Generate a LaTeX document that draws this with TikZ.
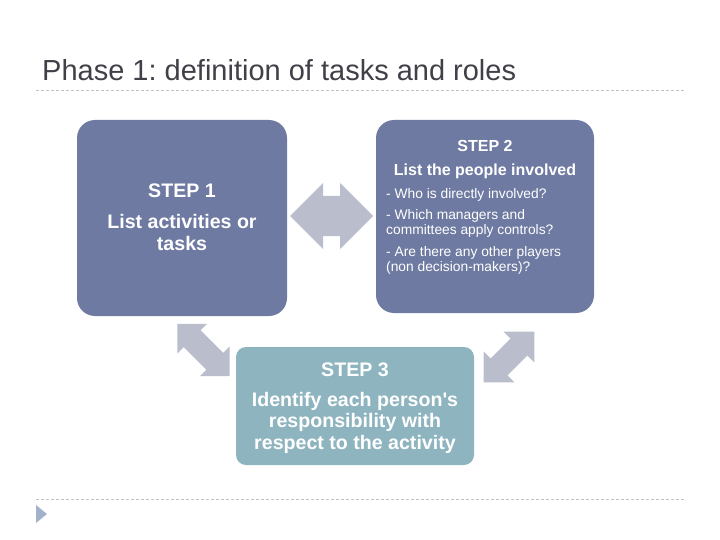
\documentclass[tikz,border=0pt]{standalone}
\usepackage{fontspec}
\setmainfont{Liberation Sans}

\definecolor{stepblue}{HTML}{6E7AA1}
\definecolor{stepteal}{HTML}{8EB4BF}
\definecolor{arrowgray}{HTML}{B9BDCC}
\definecolor{titlegray}{HTML}{404048}
\definecolor{rulegray}{HTML}{C4C4C4}
\definecolor{bulletblue}{HTML}{A2B2CA}

% double headed block arrow: centre, angle, half length, head length, stem half width
\newcommand{\twoway}[5]{%
  \begin{scope}[shift={#1},rotate=#2]
    \fill[arrowgray] (-#3,0) -- ({-#3+#4},#4) -- ({-#3+#4},#5) -- ({#3-#4},#5) -- ({#3-#4},#4) -- (#3,0)
      -- ({#3-#4},-#4) -- ({#3-#4},-#5) -- ({-#3+#4},-#5) -- ({-#3+#4},-#4) -- cycle;
  \end{scope}}

\tikzset{
  stepbox/.style={inner sep=0pt,rounded corners=18pt},
  bigtext/.style={anchor=base,inner sep=0pt,text=white,font=\bfseries\fontsize{19.6}{22}\selectfont},
  midtext/.style={anchor=base,inner sep=0pt,text=white,font=\bfseries\fontsize{16}{19}\selectfont},
  smalltext/.style={anchor=base west,inner sep=0pt,text=white,font=\fontsize{13.8}{16}\selectfont},
  rule/.style={rulegray,line width=0.8pt,dash pattern=on 3pt off 2pt}
}

\begin{document}
\frenchspacing
\begin{tikzpicture}[x=1pt,y=-1pt]
  \useasboundingbox (0,0) rectangle (720,540);
  % title and rules
  \node[anchor=base west,inner sep=0pt,text=titlegray,font=\fontsize{29}{33}\selectfont] (title) at (42,81) {Phase 1: definition of tasks and roles};
  \draw[rule] (36,90) -- (686,90);
  \draw[rule] (36,499) -- (686,499);
  \fill[bulletblue] (36,505) -- (47,514) -- (36,523) -- cycle;

  % the three steps
  \node[stepbox,fill=stepblue,minimum width=210pt,minimum height=196pt] (step1) at (182,218) {};
  \node[stepbox,fill=stepblue,minimum width=218pt,minimum height=193pt] (step2) at (485,216.5) {};
  \node[stepbox,fill=stepteal,rounded corners=10pt,minimum width=238pt,minimum height=118pt] (step3) at (355,406) {};

  \node[bigtext] (s1a) at (182,198) {STEP 1};
  \node[bigtext] (s1b) at (182,229) {List activities or};
  \node[bigtext] (s1c) at (182,251) {tasks};

  \node[midtext] (s2a) at (485,152) {STEP 2};
  \node[midtext] (s2b) at (485,176) {List the people involved};
  \node[smalltext] (s2c) at (386,199) {- Who is directly involved?};
  \node[smalltext] (s2d) at (386,220) {- Which managers and};
  \node[smalltext] (s2e) at (386,234) {committees apply controls?};
  \node[smalltext] (s2f) at (386,256) {- Are there any other players};
  \node[smalltext] (s2g) at (386,271) {(non decision-makers)?};

  \node[bigtext] (s3a) at (355,376) {STEP 3};
  \node[bigtext] (s3b) at (355,406) {Identify each person\textquotesingle s};
  \node[bigtext] (s3c) at (355,427) {responsibility with};
  \node[bigtext] (s3d) at (355,449) {respect to the activity};

  % arrows between the steps
  \twoway{(331.5,216)}{0}{41.5}{33}{20}
  \twoway{(203.5,350)}{-45}{37}{21}{12}
  \twoway{(509,357)}{45}{36}{22}{12}
\end{tikzpicture}
\end{document}
